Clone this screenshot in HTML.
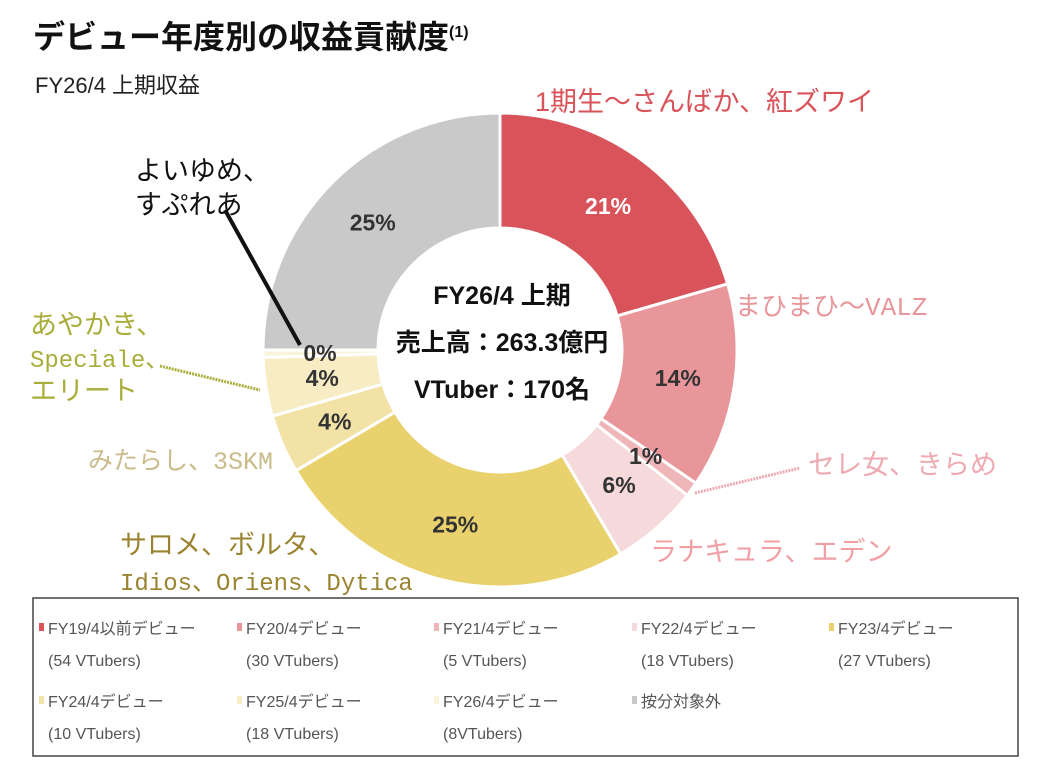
<!DOCTYPE html>
<html><head><meta charset="utf-8">
<style>
body{margin:0;background:#fff;width:1045px;height:764px;overflow:hidden;font-family:"Liberation Sans","Noto Sans CJK JP",sans-serif;}
svg text{font-family:"Liberation Sans","Noto Sans CJK JP",sans-serif;}
.mono{font-family:"Liberation Mono","Noto Sans CJK JP",monospace;}
</style></head><body>
<svg id="chart" width="1045" height="764">
<text x="33" y="48" font-size="32" font-weight="bold" fill="#111">デビュー年度別の収益貢献度<tspan font-size="16" dy="-11">(1)</tspan></text>
<text x="35" y="93" font-size="22" fill="#222">FY26/4 上期収益</text>
<g id="slices"></g>
<g id="pct"></g>
<g font-weight="bold" font-size="25" fill="#111" text-anchor="middle">
<text x="502" y="304">FY26/4 上期</text>
<text x="502" y="351">売上高：263.3億円</text>
<text x="502" y="398">VTuber：170名</text>
</g>
<g font-size="27">
<text x="535" y="111" fill="#d9535a">1期生～さんばか、紅ズワイ</text>
<text x="735" y="315" fill="#e8969a" font-size="26" class="mono">まひまひ～VALZ</text>
<text x="808" y="474" fill="#eeaab0">セレ女、きらめ</text>
<text x="650" y="561" fill="#f0a0a5">ラナキュラ、エデン</text>
<text x="120" y="554" fill="#9b8430">サロメ、ボルタ、</text>
<text x="120" y="590" fill="#9b8430" font-size="24" class="mono">Idios、Oriens、Dytica</text>
<text x="88" y="469" fill="#c9bb8a" font-size="25" class="mono">みたらし、3SKM</text>
<text x="30" y="334" fill="#a9ad3a">あやかき、</text>
<text x="30" y="367" fill="#a9ad3a" font-size="24" class="mono">Speciale、</text>
<text x="30" y="400" fill="#a9ad3a">エリート</text>
<text x="135" y="180" fill="#111">よいゆめ、</text>
<text x="135" y="214" fill="#111">すぷれあ</text>
</g>
<line x1="225" y1="210" x2="300" y2="345" stroke="#111" stroke-width="4"/>
<line x1="160" y1="366" x2="260" y2="390" stroke="#a9ad3a" stroke-width="3" stroke-dasharray="2,1"/>
<line x1="695" y1="493" x2="800" y2="468" stroke="#eeaab0" stroke-width="3" stroke-dasharray="2,1"/>
<rect x="33" y="598" width="985" height="158" fill="none" stroke="#444" stroke-width="1.5"/>
<g id="legend" font-size="16" fill="#555"></g>
</svg>
<script>
const categories=["FY19/4以前デビュー","FY20/4デビュー","FY21/4デビュー","FY22/4デビュー","FY23/4デビュー","FY24/4デビュー","FY25/4デビュー","FY26/4デビュー","按分対象外"];
const shares=[20.5,14,1,6,25,4,4,0.5,25];
const pctLabels=["21%","14%","1%","6%","25%","4%","4%","0%","25%"];
const counts=["(54 VTubers)","(30 VTubers)","(5 VTubers)","(18 VTubers)","(27 VTubers)","(10 VTubers)","(18 VTubers)","(8VTubers)",""];
const colors=["#d9535a","#e8969a","#eeb6b8","#f6d9da","#e9d16e","#f3e2a6","#f7ecc4","#fbf4dd","#c9c9c9"];
const NS="http://www.w3.org/2000/svg";
const cx=500,cy=350,R=237,r=122,LR=180;
const total=shares.reduce((a,b)=>a+b,0);
function pt(rad,frac){const a=frac*2*Math.PI;return [cx+rad*Math.sin(a),cy-rad*Math.cos(a)];}
const gS=document.getElementById('slices'),gP=document.getElementById('pct');
let cum=0;
shares.forEach((v,i)=>{
  const f0=cum/total,f1=(cum+v)/total;cum+=v;
  const large=(f1-f0)>0.5?1:0;
  const [x0,y0]=pt(R,f0),[x1,y1]=pt(R,f1),[x2,y2]=pt(r,f1),[x3,y3]=pt(r,f0);
  const p=document.createElementNS(NS,'path');
  p.setAttribute('d',`M${x0},${y0}A${R},${R} 0 ${large} 1 ${x1},${y1}L${x2},${y2}A${r},${r} 0 ${large} 0 ${x3},${y3}Z`);
  p.setAttribute('fill',colors[i]);p.setAttribute('stroke','#fff');p.setAttribute('stroke-width','3');
  
  
  gS.appendChild(p);
  const [tx,ty]=pt(LR,(f0+f1)/2);
  const t=document.createElementNS(NS,'text');
  t.setAttribute('x',tx);t.setAttribute('y',ty+8);t.setAttribute('text-anchor','middle');
  t.setAttribute('font-size','23');t.setAttribute('font-weight','bold');
  t.setAttribute('fill',i===0?'#fff':'#333');t.textContent=pctLabels[i];
  
  
  gP.appendChild(t);
});
const gL=document.getElementById('legend');
const colX=[45,243,440,638,835];
categories.forEach((c,i)=>{
  const x=colX[i%5],y=i<5?634:707;
  const g=document.createElementNS(NS,'g');
  
  
  const m=document.createElementNS(NS,'rect');
  m.setAttribute('x',x-6);m.setAttribute('y',y-11);m.setAttribute('width',5);m.setAttribute('height',8);m.setAttribute('fill',colors[i]);
  g.appendChild(m);
  const t=document.createElementNS(NS,'text');
  t.setAttribute('x',x+3);t.setAttribute('y',y);t.textContent=c;g.appendChild(t);
  if(counts[i]){const t2=document.createElementNS(NS,'text');
  t2.setAttribute('x',x+3);t2.setAttribute('y',y+32);t2.textContent=counts[i];g.appendChild(t2);}
  gL.appendChild(g);
});
</script>
</body></html>
